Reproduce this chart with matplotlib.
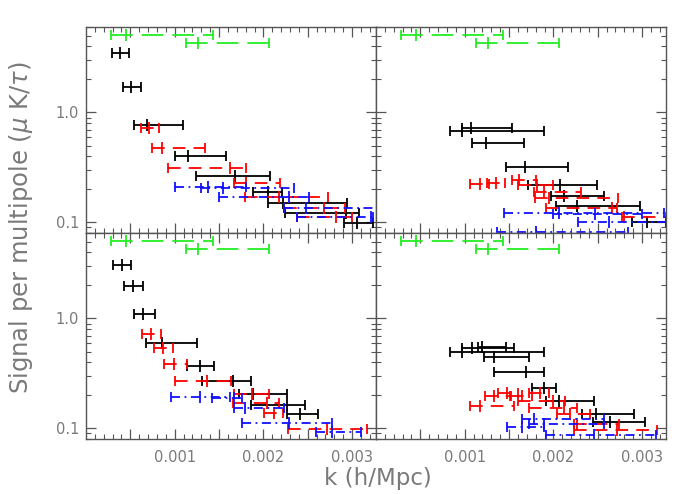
import numpy as np
import matplotlib
matplotlib.use("Agg")
import matplotlib.pyplot as plt
from matplotlib.ticker import FixedLocator, NullFormatter, LogLocator

# ---------------- data (k in h/Mpc: lo, centre, hi ; signal) ----------------
# green reference bars (same in every panel)
green_lo = [0.000279, 0.001125]
green_c = [0.000455, 0.001262]
green_hi = [0.001431, 0.002060]
green_y = [5.04, 4.25]

# top-left
tl_black_lo = [0.000297, 0.000414, 0.000539, 0.001002, 0.001235, 0.001883, 0.002053, 0.002249, 0.002907]
tl_black_c = [0.000388, 0.000505, 0.000686, 0.001145, 0.001684, 0.002053, 0.002222, 0.002927, 0.003058]
tl_black_hi = [0.000489, 0.000625, 0.001093, 0.001579, 0.002071, 0.002207, 0.002938, 0.003081, 0.003232]
tl_black_y = [3.48, 1.71, 0.766, 0.403, 0.265, 0.190, 0.149, 0.121, 0.0991]

tl_red_lo = [0.000621, 0.000749, 0.000923, 0.001664, 0.001797, 0.002230, 0.002380]
tl_red_c = [0.000716, 0.000855, 0.001627, 0.001808, 0.002181, 0.002681, 0.002814]
tl_red_hi = [0.000828, 0.001337, 0.001808, 0.002192, 0.002727, 0.002915, 0.003002]
tl_red_y = [0.725, 0.477, 0.313, 0.226, 0.171, 0.134, 0.111]

tl_blue_lo = [0.001002, 0.001300, 0.001495, 0.002230, 0.002380]
tl_blue_c = [0.001380, 0.001550, 0.002290, 0.002482, 0.003209]
tl_blue_hi = [0.001800, 0.002342, 0.002516, 0.003300, 0.003240]
tl_blue_y = [0.211, 0.205, 0.171, 0.136, 0.111]

# top-right
tr_black_lo = [0.000972, 0.000836, 0.001081, 0.001465, 0.001714, 0.001977, 0.002030, 0.002881]
tr_black_c = [0.001073, 0.000968, 0.001240, 0.001676, 0.002079, 0.002120, 0.002268, 0.003059]
tr_black_hi = [0.001533, 0.001898, 0.001672, 0.002166, 0.002494, 0.002569, 0.002972, 0.003273]
tr_black_y = [0.725, 0.680, 0.529, 0.320, 0.217, 0.173, 0.142, 0.100]

tr_red_lo = [0.001062, 0.001250, 0.001533, 0.001600, 0.001778, 0.001797, 0.001917, 0.002776]
tr_red_c = [0.001168, 0.001350, 0.001616, 0.001815, 0.001890, 0.001947, 0.002663, 0.002795]
tr_red_hi = [0.001269, 0.001450, 0.001808, 0.002000, 0.002313, 0.002727, 0.002720, 0.003266]
tr_red_y = [0.223, 0.228, 0.243, 0.218, 0.190, 0.165, 0.134, 0.112]

tr_blue_lo = [0.001439, 0.002000, 0.002275, 0.001364]
tr_blue_c = [0.002060, 0.002475, 0.002625, 0.001804]
tr_blue_hi = [0.003246, 0.003000, 0.003266, 0.002840]
tr_blue_y = [0.121, 0.119, 0.100, 0.082]

# bottom-left
bl_black_lo = [0.000309, 0.000433, 0.000539, 0.000678, 0.001137, 0.001303, 0.001729, 0.001864, 0.002267]
bl_black_c = [0.000403, 0.000527, 0.000648, 0.000855, 0.001280, 0.001657, 0.001883, 0.002267, 0.002418]
bl_black_hi = [0.000508, 0.000644, 0.000780, 0.001251, 0.001446, 0.001864, 0.002271, 0.002467, 0.002618]
bl_black_y = [3.10, 1.98, 1.09, 0.600, 0.371, 0.269, 0.206, 0.163, 0.134]

bl_red_lo = [0.000629, 0.000772, 0.000885, 0.000998, 0.001664, 0.001657, 0.002004, 0.002279]
bl_red_c = [0.000731, 0.000866, 0.000994, 0.001363, 0.001872, 0.002041, 0.002116, 0.002720]
bl_red_hi = [0.000844, 0.000980, 0.001137, 0.001635, 0.002060, 0.002173, 0.002223, 0.003172]
bl_red_y = [0.716, 0.541, 0.382, 0.269, 0.204, 0.169, 0.137, 0.0985]

bl_blue_lo = [0.000960, 0.001420, 0.001672, 0.001759, 0.002599]
bl_blue_c = [0.001288, 0.001664, 0.001797, 0.002286, 0.002776]
bl_blue_hi = [0.001627, 0.001760, 0.002230, 0.002776, 0.003096]
bl_blue_y = [0.194, 0.187, 0.152, 0.113, 0.092]

# bottom-right
br_black_lo = [0.000968, 0.001150, 0.000836, 0.001213, 0.001333, 0.001759, 0.001921, 0.002324, 0.002448]
br_black_c = [0.001081, 0.001194, 0.000968, 0.001326, 0.001691, 0.001898, 0.002060, 0.002486, 0.002644]
br_black_hi = [0.001559, 0.001470, 0.001890, 0.001721, 0.001890, 0.002030, 0.002463, 0.002908, 0.003028]
br_black_y = [0.541, 0.548, 0.497, 0.442, 0.327, 0.231, 0.177, 0.135, 0.115]

br_red_lo = [0.001224, 0.001380, 0.001520, 0.001720, 0.001600, 0.001055, 0.001721, 0.002042, 0.002237, 0.002230]
br_red_c = [0.001326, 0.001477, 0.001646, 0.001850, 0.002000, 0.001168, 0.002117, 0.002192, 0.002268, 0.002712]
br_red_hi = [0.001514, 0.001600, 0.001760, 0.001950, 0.002130, 0.001559, 0.002268, 0.002418, 0.002738, 0.003172]
br_red_y = [0.198, 0.211, 0.198, 0.208, 0.177, 0.160, 0.154, 0.134, 0.109, 0.0966]

br_blue_lo = [0.001646, 0.001720, 0.001477, 0.001921]
br_blue_c = [0.001778, 0.001890, 0.001646, 0.002463]
br_blue_hi = [0.002569, 0.002569, 0.001890, 0.003153]
br_blue_y = [0.122, 0.109, 0.1035, 0.087]

xticks_major = [0.001, 0.002, 0.003]
xtick_labels = ["0.001", "0.002", "0.003"]
yticks_major = [0.1, 1.0]
ytick_labels = ["0.1", "1.0"]

# ---------------- styling ----------------
GREEN = "#22ee22"
BLACK = "#000000"
RED = "#ff0000"
BLUE = "#1010ff"
AXC = "#555555"
TXT = "#7a7a7a"

fig = plt.figure(figsize=(6.92, 4.94), dpi=100)
W, H = 692.0, 494.0
x_l, x_r, pw = 86, 376, 290
y_t, y_b, ph = 27, 233, 206


def axes_at(x0, y0):
    return fig.add_axes([x0 / W, 1 - (y0 + ph) / H, pw / W, ph / H])


def bars(ax, lo, c, hi, y, color, ls):
    lo, c, hi, y = map(np.asarray, (lo, c, hi, y))
    eb = ax.errorbar(c, y, xerr=[c - lo, hi - c], fmt="none", ecolor=color,
                     elinewidth=1.3, capsize=3.5, capthick=1.3)
    for lc in eb[2]:
        lc.set_linestyle(ls)
    ax.plot(c, y, ls="none", marker="|", ms=9, mew=1.3, color=color)


panels = [
    ((x_l, y_t), (tl_black_lo, tl_black_c, tl_black_hi, tl_black_y),
     (tl_red_lo, tl_red_c, tl_red_hi, tl_red_y),
     (tl_blue_lo, tl_blue_c, tl_blue_hi, tl_blue_y), True, False),
    ((x_r, y_t), (tr_black_lo, tr_black_c, tr_black_hi, tr_black_y),
     (tr_red_lo, tr_red_c, tr_red_hi, tr_red_y),
     (tr_blue_lo, tr_blue_c, tr_blue_hi, tr_blue_y), False, False),
    ((x_l, y_b), (bl_black_lo, bl_black_c, bl_black_hi, bl_black_y),
     (bl_red_lo, bl_red_c, bl_red_hi, bl_red_y),
     (bl_blue_lo, bl_blue_c, bl_blue_hi, bl_blue_y), True, True),
    ((x_r, y_b), (br_black_lo, br_black_c, br_black_hi, br_black_y),
     (br_red_lo, br_red_c, br_red_hi, br_red_y),
     (br_blue_lo, br_blue_c, br_blue_hi, br_blue_y), False, True),
]

for (pos, blk, red, blu, ylab, xlab) in panels:
    ax = axes_at(*pos)
    ax.set_yscale("log")
    bars(ax, green_lo, green_c, green_hi, green_y, GREEN, (0, (12, 5)))
    bars(ax, *blk, BLACK, "-")
    bars(ax, *red, RED, (0, (7, 4.5)))
    bars(ax, *blu, BLUE, (0, (5, 2.5, 1, 2.5)))
    ax.set_xlim(0.0, 0.00327)
    ax.set_ylim(0.08, 6.0)
    for s in ax.spines.values():
        s.set_color(AXC)
        s.set_linewidth(1.0)
    ax.xaxis.set_major_locator(FixedLocator([0.0005, 0.001, 0.0015, 0.002, 0.0025, 0.003]))
    ax.xaxis.set_minor_locator(FixedLocator(np.arange(0.0001, 0.00327, 0.0001)))
    ax.yaxis.set_major_locator(FixedLocator(yticks_major))
    ax.yaxis.set_minor_locator(LogLocator(base=10, subs=np.arange(2, 10)))
    ax.yaxis.set_minor_formatter(NullFormatter())
    ax.tick_params(which="both", direction="in", top=True, right=True,
                   color=AXC, labelcolor=TXT, labelsize=10.5)
    ax.tick_params(which="major", length=7, width=0.9)
    ax.tick_params(which="minor", length=3.5, width=0.8)
    if xlab:
        ax.set_xticklabels(["", xtick_labels[0], "", xtick_labels[1], "", xtick_labels[2]])
        ax.tick_params(axis="x", pad=8)
    else:
        ax.set_xticklabels([])
    if ylab:
        ax.set_yticklabels(ytick_labels)
        ax.tick_params(axis="y", pad=5)
    else:
        ax.set_yticklabels([])

fig.text(378 / W, 1 - 478 / H, "k (h/Mpc)", ha="center", va="center",
         fontsize=16.5, color=TXT)
fig.text(21 / W, 1 - 228 / H, r"Signal per multipole ($\mu$ K/$\tau$)",
         ha="center", va="center", rotation=90, fontsize=17.5, color=TXT)

fig.savefig("out.png", dpi=100)
